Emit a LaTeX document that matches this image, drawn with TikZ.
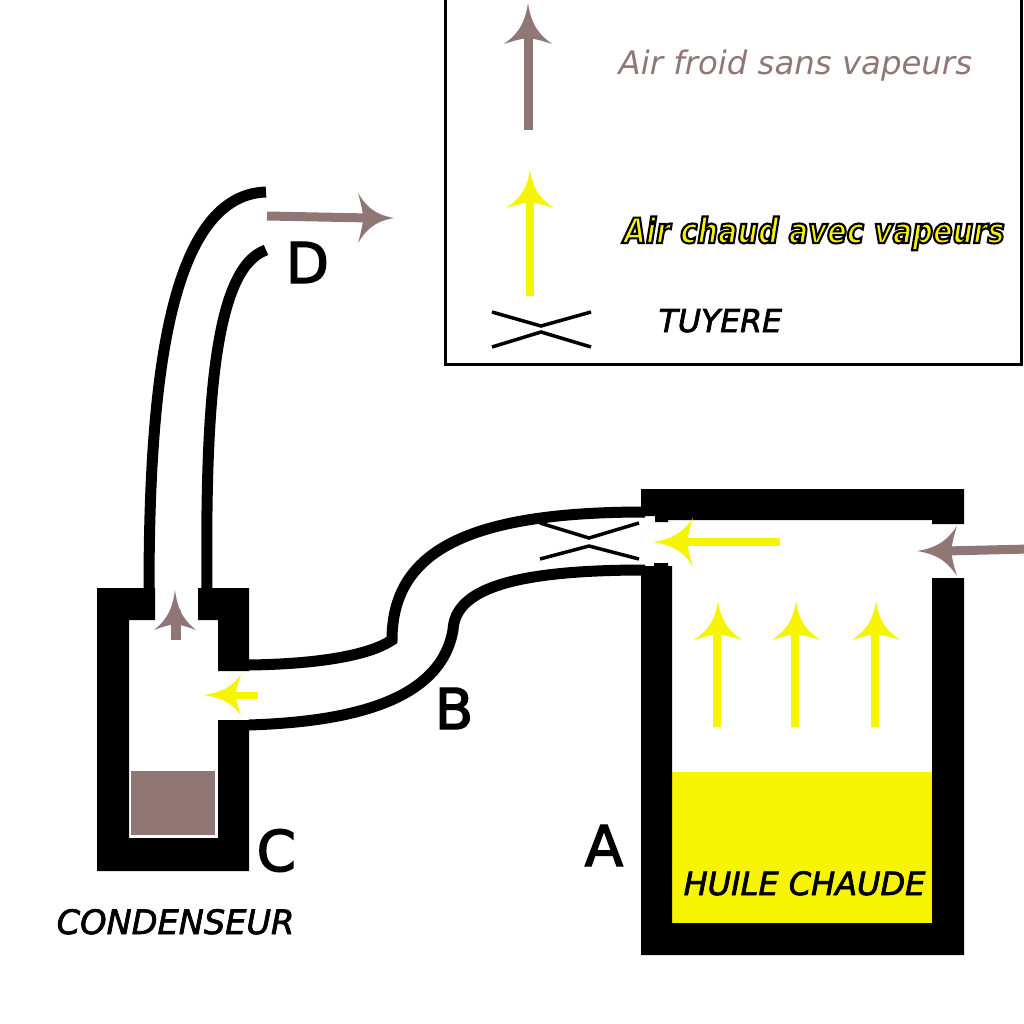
\documentclass[tikz,border=0pt]{standalone}
\usepackage{fontspec}
\setmainfont{DejaVu Sans}
\usepackage{xcolor}
\definecolor{airfroid}{HTML}{917676}
\definecolor{airchaud}{HTML}{F7F400}
\newcommand{\outlined}[2]{\special{pdf:code q 2 Tr #1 w 0 0 0 RG}#2\special{pdf:code Q}}

\tikzset{
  pipe/.style={line width=1.1mm},
  wall/.style={fill=black},
  nozzle/.style={line width=0.35mm},
  flowcold/.style={draw=airfroid,line width=0.9mm},
  flowhot/.style={draw=airchaud,line width=0.8mm},
  letter/.style={font=\fontsize{16}{16}\selectfont,anchor=base west,inner sep=0pt},
  caption/.style={font=\fontsize{9.2}{10}\selectfont\itshape,anchor=base west,inner sep=0pt},
  pics/airhead/.style 2 args={code={
    \fill[pic actions,draw=none] (0,0) .. controls (-#1*0.6,#2*0.15) and (-#1*0.8,#2*0.55) .. (-#1,#2)
      .. controls (-#1*0.9,#2*0.5) and (-#1*0.87,#2*0.2) .. (-#1*0.85,0)
      .. controls (-#1*0.87,-#2*0.2) and (-#1*0.9,-#2*0.5) .. (-#1,-#2)
      .. controls (-#1*0.8,-#2*0.55) and (-#1*0.6,-#2*0.15) .. cycle;
  }}
}

\begin{document}
\begin{tikzpicture}[x=0.01cm,y=-0.01cm]
  \useasboundingbox (0,0) rectangle (1024,1024);

  % legend
  \draw[line width=0.3mm] (445,-5) -- (445,364) -- (1021,364) -- (1021,-5);
  \draw[flowcold] (528,130) -- (528,30);
  \pic[rotate=90,airfroid,fill=airfroid] at (528,3) {airhead={41}{24}};
  \draw[flowhot] (530,296) -- (530,195);
  \pic[rotate=90,airchaud,fill=airchaud] at (530,170) {airhead={38}{24}};
  \draw[nozzle] (492,312) -- (541,326) -- (591,312);
  \draw[nozzle] (492,347) -- (541,332) -- (591,347);
  \node[caption,text=airfroid] (froid) at (618,74) {Air froid sans vapeurs};
  \node[caption,text=airchaud,font=\fontsize{9.9}{11}\selectfont\bfseries\itshape\addfontfeature{FakeStretch=0.83}] (chaud) at (623,243) {\outlined{0.6}{Air chaud avec vapeurs}};
  \node[caption,font=\fontsize{8.96}{10}\selectfont\itshape] (tuyere) at (658,332) {\outlined{0.2}{TUYERE}};

  % pipes
  \draw[pipe] (149,592) .. controls (149,400) and (165,195) .. (266,192);
  \draw[pipe] (207,592) .. controls (205,400) and (215,268) .. (266,250);
  \draw[pipe] (249,665) .. controls (320,664) and (370,655) .. (392,640)
    .. controls (392,550) and (470,512) .. (645,512);
  \draw[pipe] (249,725) .. controls (340,722) and (440,705) .. (453,630)
    .. controls (455,590) and (510,570) .. (645,570);
  \draw[nozzle] (540,523) -- (589,538) -- (639,523);
  \draw[nozzle] (540,559) -- (589,546) -- (639,559);

  % tank
  \fill[airchaud] (672,772) rectangle (932,923);
  \fill[wall] (641,566) -- (654,566) -- (654,563) -- (668,563) -- (668,566) -- (672,566) -- (672,923)
    -- (932,923) -- (932,578) -- (964,578) -- (964,955) -- (641,955) -- cycle;
  \fill[wall] (641,489) -- (964,489) -- (964,524) -- (932,524) -- (932,520) -- (668,520)
    -- (668,522) -- (655,522) -- (655,516) -- (641,516) -- cycle;
  \foreach \xpos in {717,795,875} {
    \draw[flowhot] (\xpos,727) -- (\xpos,625);
    \pic[rotate=90,airchaud,fill=airchaud] at (\xpos+1,601) {airhead={39}{24}};
  }
  \draw[flowhot] (780,542) -- (675,542);
  \pic[rotate=180,airchaud,fill=airchaud] at (653,542) {airhead={40}{24}};
  \draw[flowcold] (1030,549) -- (945,551);
  \pic[rotate=180,airfroid,fill=airfroid] at (917,551) {airhead={40}{25}};

  % condenser
  \fill[wall] (97,588) -- (155,588) -- (155,620) -- (129,620) -- (129,838) -- (218,838) -- (218,720)
    -- (249,720) -- (249,871) -- (97,871) -- cycle;
  \fill[wall] (198,588) -- (249,588) -- (249,671) -- (218,671) -- (218,620) -- (198,620) -- cycle;
  \fill[airfroid] (131,771) rectangle (215,835);
  \draw[flowcold] (176,640) -- (176,610);
  \pic[rotate=90,airfroid,fill=airfroid] at (175,590) {airhead={40}{21}};
  \draw[flowhot,line width=0.7mm] (258,695) -- (225,695);
  \pic[rotate=180,airchaud,fill=airchaud] at (203,695) {airhead={38}{20}};
  \draw[flowcold] (267,216) -- (370,218);
  \pic[rotate=0,airfroid,fill=airfroid] at (394,218) {airhead={36}{25}};

  % labels
  \node[letter] (labelD) at (285,283) {\outlined{0.4}{D}};
  \node[letter] (labelC) at (256,871) {\outlined{0.4}{C}};
  \node[letter] (labelB) at (434,729) {\outlined{0.4}{B}};
  \node[letter] (labelA) at (584,866) {\outlined{0.4}{A}};
  \node[caption,font=\fontsize{9.55}{10}\selectfont\itshape] (condenseur) at (56,934) {\outlined{0.2}{CONDENSEUR}};
  \node[caption,font=\fontsize{9.1}{10}\selectfont\itshape] (huile) at (683,895) {\outlined{0.2}{HUILE CHAUDE}};
\end{tikzpicture}
\end{document}
